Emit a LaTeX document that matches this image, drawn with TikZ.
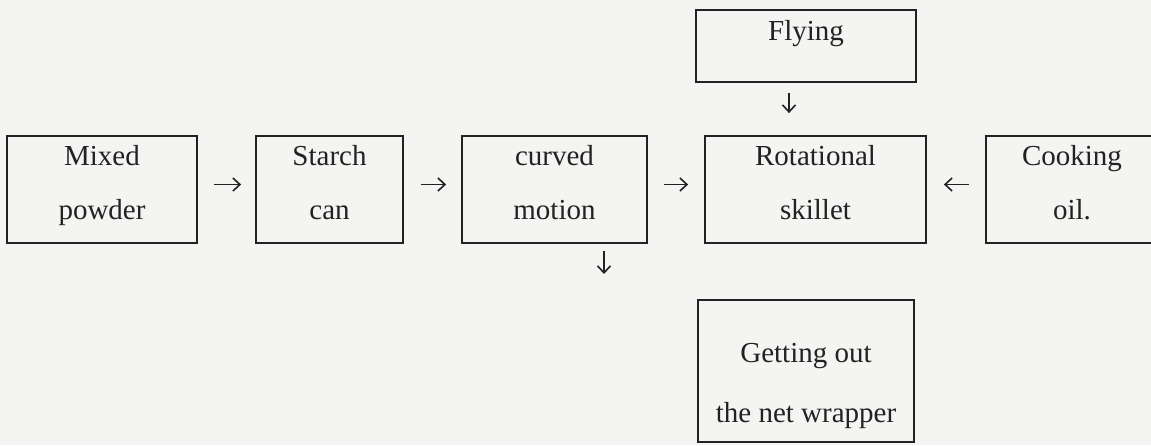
\documentclass[tikz,border=0pt]{standalone}
\usepackage{fontspec}
\setmainfont{Liberation Serif}
\usetikzlibrary{arrows.meta}
\definecolor{paper}{HTML}{F4F4F2}
\definecolor{ink}{HTML}{222222}
% invisible rules that set the depth of a last line / height of a first line
\newcommand{\lowstrut}{\rule[-14pt]{0pt}{0pt}}
\newcommand{\highstrut}{\rule{0pt}{50pt}}
\tikzset{
  stage/.style={draw=ink, line width=1.8pt, inner sep=0pt, text=ink,
    font=\fontsize{29}{54}\selectfont, align=center},
  flow/.style={draw=ink, line width=1.6pt,
    -{Straight Barb[length=7pt, width=13pt, line width=1.6pt]}}
}
\begin{document}
\begin{tikzpicture}[x=1pt, y=-1pt]
  \fill[paper] (0,0) rectangle (1151,445);
  \useasboundingbox (0,0) rectangle (1151,445);
  \clip (0,0) rectangle (1151,445);

  % main row of process stages
  \node[stage, minimum width=190pt, minimum height=107pt] (mix) at (102,189.5) {Mixed\\powder\lowstrut};
  \node[stage, minimum width=147pt, minimum height=107pt] (starch) at (329.5,189.5) {Starch\\can\lowstrut};
  \node[stage, minimum width=185pt, minimum height=107pt] (curve) at (554.5,189.5) {curved\\motion\lowstrut};
  \node[stage, minimum width=221pt, minimum height=107pt] (skillet) at (815.5,189.5) {Rotational\\skillet\lowstrut};
  \node[stage, minimum width=172pt, minimum height=107pt] (oil) at (1072,189.5) {Cooking\\oil.\lowstrut};

  % feed from above and output below
  \node[stage, minimum width=220pt, text height=30pt, text depth=42pt] (fly) at (806,46) {Flying};
  \node[stage, minimum width=216pt, minimum height=142pt,
        font=\fontsize{29}{60}\selectfont] (wrap) at (806,371) {\highstrut Getting out\\the net wrapper};

  \coordinate (outend) at (604,274);

  % connectors
  \draw[flow, shorten <=16pt, shorten >=14pt] ([yshift=5pt]mix.east) -- ([yshift=5pt]starch.west);
  \draw[flow, shorten <=17pt, shorten >=15pt] ([yshift=5pt]starch.east) -- ([yshift=5pt]curve.west);
  \draw[flow, shorten <=16pt, shorten >=16pt] ([yshift=5pt]curve.east) -- ([yshift=5pt]skillet.west);
  \draw[flow, shorten <=16pt, shorten >=17pt] ([yshift=5pt]oil.west) -- ([yshift=5pt]skillet.east);
  \draw[flow, shorten <=10pt, shorten >=22pt] ([xshift=-17pt]fly.south) -- ([xshift=-26.5pt]skillet.north);
  \draw[flow, shorten <=7pt] (curve.south -| outend) -- (outend);
\end{tikzpicture}
\end{document}
